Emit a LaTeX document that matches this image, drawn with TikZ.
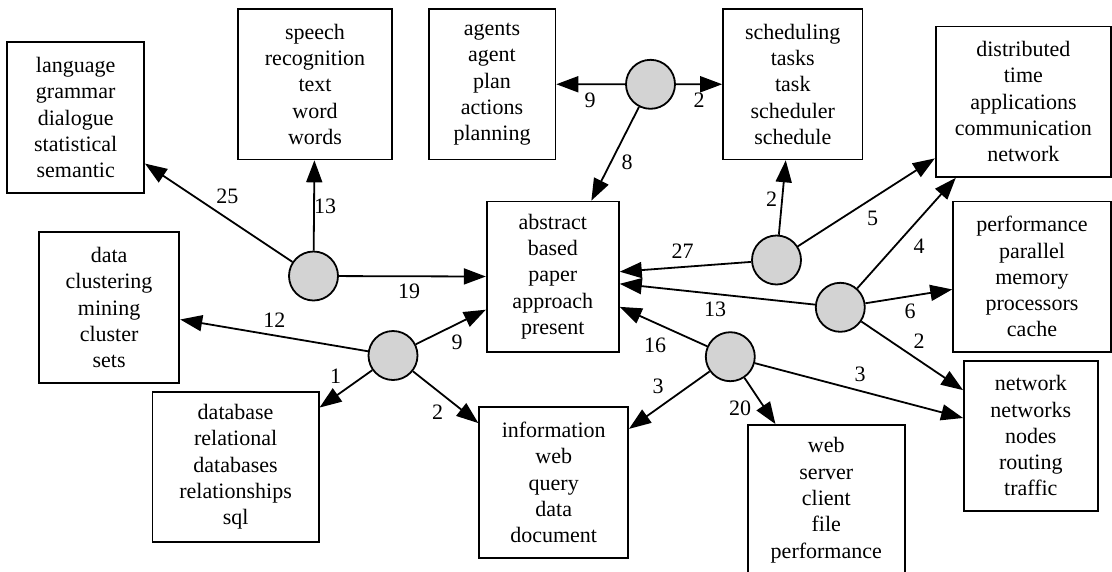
\documentclass[tikz,border=0pt]{standalone}
\usepackage{fontspec}
\setmainfont{Liberation Serif}
\usetikzlibrary{arrows.meta}
\definecolor{hubgray}{HTML}{D3D3D3}
\tikzset{topic/.style = {draw, line width = 1.8, minimum height = 150.4, inner sep = 0,
                         align = center, font = \fontsize{22}{26.3}\selectfont}}
\tikzset{hub/.style = {draw, circle, fill = hubgray, line width = 1.8, inner sep = 0, minimum size = 49}}
\tikzset{link/.style = {-{Triangle[length = 22, width = 16]}, line width = 1.8}}
\tikzset{wt/.style = {inner sep = 0, font = \fontsize{22}{26.3}\selectfont}}

\begin{document}
\begin{tikzpicture}[x = 1pt, y = -1pt]
        \useasboundingbox (0, 0) rectangle (1112, 571);

        % topic boxes
        \node [topic, minimum width = 136.7] (language) at (75.7, 117.5) {language\\grammar\\dialogue\\statistical\\semantic};
        \node [topic, minimum width = 153.6] (speech) at (315, 84.2) {speech\\recognition\\text\\word\\words};
        \node [topic, minimum width = 126.8] (agents) at (492, 84.2) {agents\\agent\\plan\\actions\\planning};
        \node [topic, minimum width = 139.4] (sched) at (792.8, 84.2) {scheduling\\tasks\\task\\scheduler\\schedule};
        \node [topic, minimum width = 175.3] (distrib) at (1023.4, 101.7) {distributed\\time\\applications\\communication\\network};
        \node [topic, minimum width = 140.4] (mining) at (109.1, 307.5) {data\\clustering\\mining\\cluster\\sets};
        \node [topic, minimum width = 132.1] (abstract) at (552.8, 276.7) {abstract\\based\\paper\\approach\\present};
        \node [topic, minimum width = 157.7] (perf) at (1032, 276.7) {performance\\parallel\\memory\\processors\\cache};
        \node [topic, minimum width = 166.1] (dbase) at (235.6, 467) {database\\relational\\databases\\relationships\\sql};
        \node [topic, minimum width = 148.8] (info) at (553.7, 482.5) {information\\web\\query\\data\\document};
        \node [topic, minimum width = 157] (web) at (826.3, 500.2) {web\\server\\client\\file\\performance};
        \node [topic, minimum width = 133.6] (netw) at (1030.8, 435.8) {network\\networks\\nodes\\routing\\traffic};

        % hubs
        \node [hub] (c1) at (650.5, 84.3) {};
        \node [hub] (c2) at (313.5, 276) {};
        \node [hub] (c3) at (393, 355.5) {};
        \node [hub] (c4) at (776.5, 260) {};
        \node [hub] (c5) at (840.3, 307.3) {};
        \node [hub] (c6) at (730.3, 356.7) {};

        % weighted links
        \draw [link] (c1) -- (agents) node [wt] at (590, 100) {9};
        \draw [link] (c1) -- (sched) node [wt] at (699, 100) {2};
        \draw [link] (c1) -- (abstract) node [wt] at (627, 162.5) {8};

        \draw [link] (c2) -- (language) node [wt] at (227.3, 196.7) {25};
        \draw [link] (c2) -- (speech) node [wt] at (325, 206) {13};
        \draw [link] (c2) -- (abstract) node [wt] at (409, 291.7) {19};

        \draw [link] (c3) -- (mining) node [wt] at (274.3, 320.7) {12};
        \draw [link] (c3) -- (abstract) node [wt] at (457, 342.5) {9};
        \draw [link] (c3) -- (dbase) node [wt] at (335.7, 376.7) {1};
        \draw [link] (c3) -- (info) node [wt] at (437.5, 412.3) {2};

        \draw [link] (c4) -- (sched) node [wt] at (771.5, 199.3) {2};
        \draw [link] (c4) -- (abstract) node [wt] at (682.6, 251.7) {27};
        \draw [link] (c4) -- (distrib) node [wt] at (872.6, 218.3) {5};

        \draw [link] (c5) -- (distrib) node [wt] at (919.2, 246.7) {4};
        \draw [link] (c5) -- (abstract) node [wt] at (715, 309.3) {13};
        \draw [link] (c5) -- (perf) node [wt] at (910.2, 311.7) {6};
        \draw [link] (c5) -- (netw) node [wt] at (919.2, 341) {2};

        \draw [link] (c6) -- (abstract) node [wt] at (655, 345) {16};
        \draw [link] (c6) -- (info) node [wt] at (658.2, 386.7) {3};
        \draw [link] (c6) -- (web) node [wt] at (740, 408.3) {20};
        \draw [link] (c6) -- (netw) node [wt] at (860, 374) {3};
      \end{tikzpicture}
\end{document}
